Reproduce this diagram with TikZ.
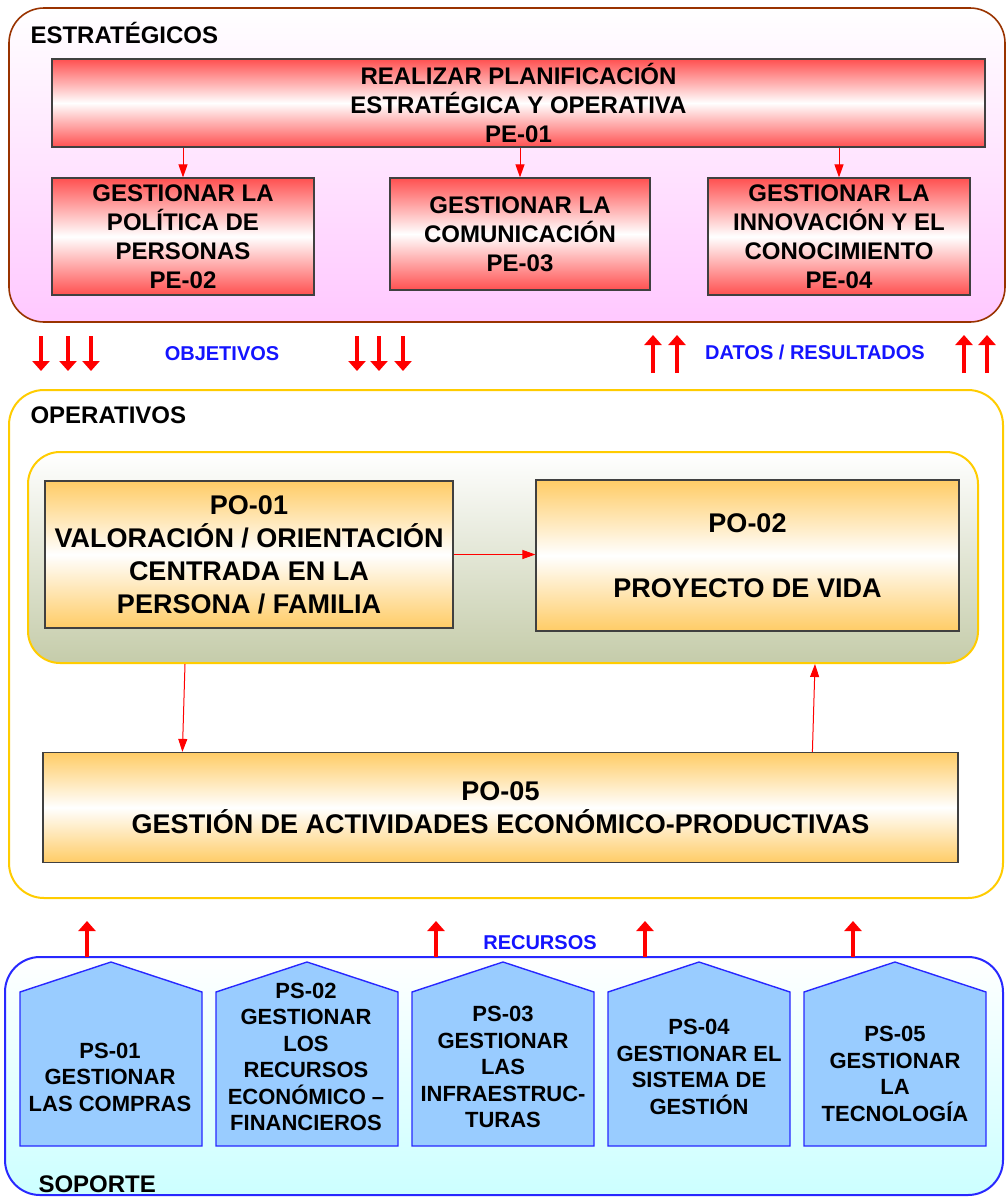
\documentclass[tikz,border=0pt]{standalone}
\usepackage{fontspec}
\setmainfont{Liberation Sans}
\usetikzlibrary{arrows.meta}
\definecolor{rojo}{RGB}{255,80,80}
\definecolor{naranja}{RGB}{255,204,102}
\definecolor{rosa}{RGB}{255,200,255}
\definecolor{oliva}{RGB}{197,204,170}
\definecolor{celeste}{RGB}{204,255,255}
\definecolor{azulcasa}{RGB}{153,204,255}
\definecolor{azulborde}{RGB}{40,40,255}
\definecolor{marron}{RGB}{153,51,0}
\definecolor{amarillo}{RGB}{255,204,0}
\definecolor{azultexto}{RGB}{20,20,255}
\begin{document}
\begin{tikzpicture}[x=1pt,y=-1pt,
  caja/.style={draw=black!75,line width=1.2pt,align=center,inner sep=0pt,font=\bfseries\fontsize{24}{29}\selectfont},
  cajaroja/.style={caja,top color=rojo,bottom color=rojo,middle color=white},
  cajanaranja/.style={caja,top color=naranja,bottom color=naranja,middle color=white,font=\bfseries\fontsize{27}{33}\selectfont},
  grupo/.style={line width=2pt,rounded corners=35pt,inner sep=0pt},
  casa/.style={fill=azulcasa,draw=azulborde,line width=1.4pt},
  textocasa/.style={align=center,font=\bfseries\fontsize{22}{26.5}\selectfont},
  titulo/.style={anchor=base west,font=\bfseries\fontsize{24}{29}\selectfont},
  etiqueta/.style={anchor=base,text=azultexto,font=\bfseries\fontsize{20}{24}\selectfont},
  flecha/.style={draw=red,line width=1pt,-{Triangle[width=9pt,length=13pt]}},
  flechagruesa/.style={draw=red,line width=3.5pt,-{Triangle[width=17pt,length=10pt]}}]
\useasboundingbox (0,0) rectangle (1007,1197);

% estrategicos
\node[grupo,draw=marron,line width=1.6pt,top color=white,bottom color=rosa,minimum width=996pt,minimum height=314pt] (estrategicos) at (507,165) {};
\node[titulo] at (27,43) {ESTRATÉGICOS};
\node[cajaroja,minimum width=933pt,minimum height=88pt] (pe1) at (518.5,103) {REALIZAR PLANIFICACIÓN\\ESTRATÉGICA Y OPERATIVA\\PE-01};
\node[cajaroja,minimum width=262pt,minimum height=117pt] (pe2) at (183,236.5) {GESTIONAR LA\\POLÍTICA DE\\PERSONAS\\PE-02};
\node[cajaroja,minimum width=260pt,minimum height=112pt] (pe3) at (520,234) {GESTIONAR LA\\COMUNICACIÓN\\PE-03};
\node[cajaroja,minimum width=262pt,minimum height=117pt] (pe4) at (839,236.5) {GESTIONAR LA\\INNOVACIÓN Y EL\\CONOCIMIENTO\\PE-04};
\foreach \n in {pe2,pe3,pe4}
  \draw[flecha] (pe1.south -| \n) -- (\n.north);

% objetivos / resultados
\foreach \x in {41,68,91,357,379,403}
  \draw[flechagruesa] (\x,336) -- (\x,371);
\foreach \x in {653,677,964,987}
  \draw[flechagruesa] (\x,373) -- (\x,335);
\node[etiqueta] at (222,360) {OBJETIVOS};
\node[etiqueta] at (815,359) {DATOS / RESULTADOS};

% operativos
\node[grupo,draw=amarillo,fill=white,minimum width=994pt,minimum height=508pt] (operativos) at (506,644) {};
\node[titulo] at (27,423) {OPERATIVOS};
\node[grupo,rounded corners=32pt,draw=amarillo,top color=white,bottom color=oliva,minimum width=950pt,minimum height=211pt] (nucleo) at (503,557.5) {};
\node[cajanaranja,minimum width=408pt,minimum height=147pt] (po1) at (249,554.5) {PO-01\\VALORACIÓN / ORIENTACIÓN\\CENTRADA EN LA\\PERSONA / FAMILIA};
\node[cajanaranja,minimum width=423pt,minimum height=151pt] (po2) at (747.5,555.5) {PO-02\\[32pt]PROYECTO DE VIDA};
\node[cajanaranja,minimum width=915pt,minimum height=110pt] (po5) at (500.5,807.5) {PO-05\\GESTIÓN DE ACTIVIDADES ECONÓMICO-PRODUCTIVAS};
\draw[flecha] (po1.east) -- (po1.east -| po2.west);
\draw[flecha] ([xshift=158pt]nucleo.south west) -- ([xshift=140pt]po5.north west);
\draw[flecha] ([xshift=770pt]po5.north west) -- ([xshift=788pt]nucleo.south west);

% soporte
\node[grupo,draw=azulborde,top color=white,bottom color=celeste,minimum width=998pt,minimum height=238pt] (soporte) at (504,1076) {};
\node[titulo] at (35,1192) {SOPORTE};
\foreach \x in {20,216,412,608,804}
  \draw[casa] (\x,1146) -- ++(0,-154) -- ++(91,-30) -- ++(91,30) -- ++(0,154) -- cycle;
\node[textocasa] (ps1) at (110,1077) {PS-01\\GESTIONAR\\LAS COMPRAS};
\node[textocasa] (ps2) at (306,1057) {PS-02\\GESTIONAR\\LOS\\RECURSOS\\ECONÓMICO –\\FINANCIEROS};
\node[textocasa] (ps3) at (503,1067) {PS-03\\GESTIONAR\\LAS\\INFRAESTRUC-\\TURAS};
\node[textocasa] (ps4) at (699,1067) {PS-04\\GESTIONAR EL\\SISTEMA DE\\GESTIÓN};
\node[textocasa] (ps5) at (895,1074) {PS-05\\GESTIONAR\\LA\\TECNOLOGÍA};

% recursos
\foreach \x in {87,436,645,853}
  \draw[flechagruesa] (\x,957) -- (\x,921);
\node[etiqueta] at (540,949) {RECURSOS};
\end{tikzpicture}
\end{document}
